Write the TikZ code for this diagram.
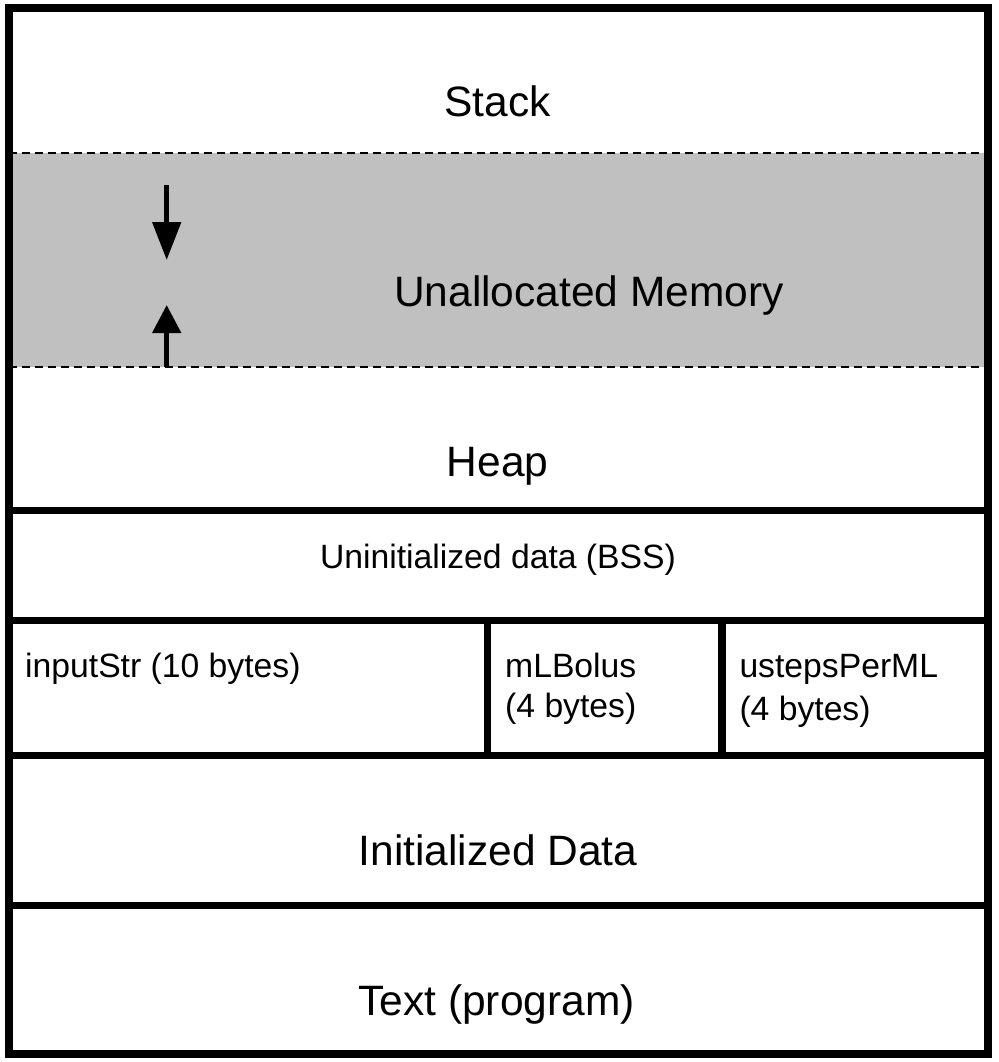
\documentclass[tikz,border=0pt]{standalone}
\usepackage{fontspec}
\setmainfont{Liberation Sans}
\usetikzlibrary{arrows.meta}
\begin{document}
\begin{tikzpicture}[x=1pt,y=-1pt,
  bigtext/.style={anchor=base,inner sep=0pt,font=\fontsize{42.5}{50}\selectfont},
  smalltext/.style={anchor=base west,inner sep=0pt,font=\fontsize{33.7}{40}\selectfont,align=left},
  thickline/.style={line width=7.5pt},
  dashline/.style={line width=2pt,dash pattern=on 8pt off 5pt},
  growarrow/.style={line width=5pt}]
\useasboundingbox (0,0) rectangle (998,1062);
% unallocated region
\fill[fill={rgb,255:red,192;green,192;blue,192}] (8.5,152.5) rectangle (988,367);
\draw[dashline] (8.5,152.5) -- (988,152.5);
\draw[dashline] (8.5,367) -- (988,367);
% section boundaries
\draw[thickline] (8.5,510.5) -- (988,510.5);
\draw[thickline] (8.5,620.5) -- (988,620.5);
\draw[thickline] (8.5,755.5) -- (988,755.5);
\draw[thickline] (8.5,905.5) -- (988,905.5);
\draw[thickline] (487.7,620.5) -- (487.7,755.5);
\draw[thickline] (722,620.5) -- (722,755.5);
% outer frame
\draw[line width=8pt] (8.5,8) rectangle (988,1054);
% texts
\node[bigtext] (stack) at (497.5,116.7) {Stack};
\node[bigtext] (unalloc) at (589,306.7) {Unallocated Memory};
\node[bigtext] (heap) at (497.5,476.7) {Heap};
\node[anchor=base,inner sep=0pt,font=\fontsize{33.7}{40}\selectfont] (bss) at (498,568.3) {Uninitialized data (BSS)};
\node[smalltext] (inputstr) at (25,677.5) {inputStr (10 bytes)};
\node[smalltext] (mlbolus) at (505,717.5) {mLBolus\\(4 bytes)};
\node[smalltext] (usteps) at (739.3,720) {ustepsPerML\\[2.5pt](4 bytes)};
\node[bigtext] (initdata) at (498,865.7) {Initialized Data};
\node[bigtext] (textprog) at (496.5,1015.7) {Text (program)};
% growth arrows
\coordinate (stacktail) at (166.7,185);
\coordinate (stacktip) at (166.7,260);
\coordinate (heaptail) at (166.7,367);
\coordinate (heaptip) at (166.7,305);
\draw[growarrow,-{Triangle[length=38pt,width=28pt]}] (stacktail) -- (stacktip);
\draw[growarrow,-{Triangle[length=28pt,width=28pt]}] (heaptail) -- (heaptip);
\end{tikzpicture}
\end{document}
